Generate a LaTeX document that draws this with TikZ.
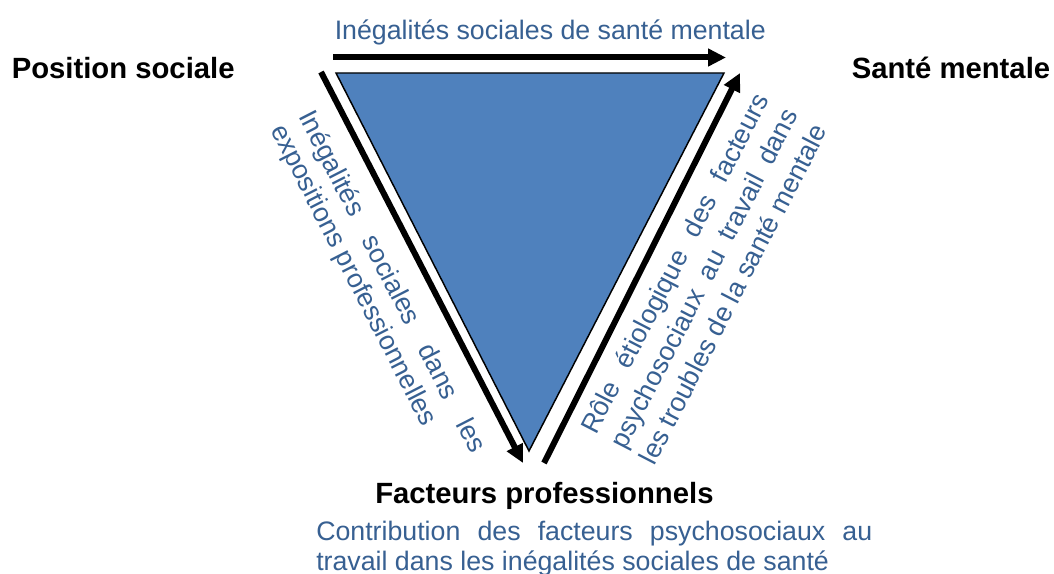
\documentclass[tikz,border=0pt]{standalone}
\usepackage{fontspec}
\setmainfont{Liberation Sans}
\usetikzlibrary{arrows.meta}
\definecolor{fillblue}{HTML}{4F81BD}
\definecolor{txtblue}{HTML}{376092}
\newlength\pxu
\setlength\pxu{0.75pt}
\begin{document}
\begin{tikzpicture}[x=0.75pt,y=-0.75pt,
  bluetxt/.style={inner sep=0pt, text=txtblue, font=\fontsize{20.05pt}{22.5pt}\selectfont},
  boldlbl/.style={inner sep=0pt, font=\fontsize{21.95pt}{26pt}\selectfont\bfseries},
  bigarrow/.style={line width=4.5pt, -{Triangle[length=13.5pt,width=12.75pt]}},
  tri/.style={fill=fillblue, draw=black, line width=1.1pt, line join=miter}
]
\useasboundingbox (0,0) rectangle (1054,574);
\fill[white] (0,0) rectangle (1054,574);
% triangle
\coordinate (TL) at (336,73);
\coordinate (TR) at (724,73);
\coordinate (TB) at (529,451);
\draw[tri] (TL) -- (TR) -- (TB) -- cycle;
% arrows
\coordinate (a1s) at (333,57.5);
\coordinate (a1e) at (726,57.5);
\coordinate (a2s) at (321,72);
\coordinate (a2e) at (523,463);
\coordinate (a3s) at (544,463);
\coordinate (a3e) at (740,73);
\draw[bigarrow] (a1s) -- (a1e);
\draw[bigarrow] (a2s) -- (a2e);
\draw[bigarrow] (a3s) -- (a3e);
% corner labels
\node[boldlbl, anchor=base west] (pos) at (11.5,79) {Position sociale};
\node[boldlbl, anchor=base west] (sante) at (851.5,79) {Santé mentale};
\node[boldlbl, anchor=base west] (fact) at (375,503) {Facteurs professionnels};
% top text
\node[bluetxt, anchor=base west] (toptxt) at (334.5,39.3) {Inégalités sociales de santé mentale};
% bottom text
\node[bluetxt, anchor=base west] (contrib1) at (316,540) {\makebox[556\pxu][s]{Contribution des facteurs psychosociaux au}};
\node[bluetxt, anchor=base west] (contrib2) at (316,570) {travail dans les inégalités sociales de santé};
% left rotated text
\node[bluetxt, anchor=base west, rotate=-62.9] (left1) at (298,116) {\makebox[380\pxu][s]{Inégalités sociales dans les}};
\node[bluetxt, anchor=base west, rotate=-62.9] (left2) at (270.4,130.1) {expositions professionnelles};
% right rotated text
\node[bluetxt, anchor=base west, rotate=62.7] (right1) at (596,436) {\makebox[378\pxu][s]{Rôle étiologique des facteurs}};
\node[bluetxt, anchor=base west, rotate=62.7] (right2) at (625.3,451.1) {\makebox[378\pxu][s]{psychosociaux au travail dans}};
\node[bluetxt, anchor=base west, rotate=62.7] (right3) at (654.6,466.3) {les troubles de la santé mentale};
\end{tikzpicture}
\end{document}
